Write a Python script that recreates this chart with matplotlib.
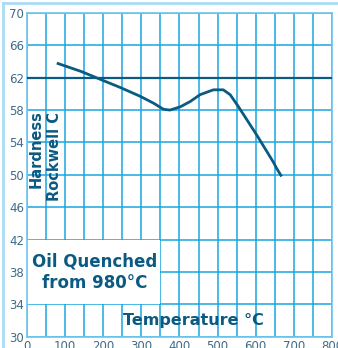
import numpy as np
import matplotlib.pyplot as plt
from matplotlib.patches import Rectangle

temp = [78, 143, 192, 244, 297, 332, 358, 375, 402, 428, 454, 489, 515, 533, 555, 603, 646, 655, 668]
hardness = [63.8, 62.75, 61.8, 60.8, 59.7, 58.85, 58.1, 58.0, 58.4, 59.05, 59.9, 60.5, 60.5,
            59.9, 58.4, 54.9, 51.6, 50.8, 49.8]
x_ticks = list(range(0, 801, 100))
y_ticks = list(range(30, 71, 4))
ref_level = 62

dark = "#0b5a82"
grid = "#1aa6e0"
pale = "#a9dcf5"

fig = plt.figure(figsize=(3.38, 3.48), dpi=100)
ax = fig.add_axes([0.080, 0.032, 0.902, 0.931])

ax.set_xlim(0, 800)
ax.set_ylim(30, 70)
ax.set_xticks(x_ticks)
ax.set_xticks(np.arange(0, 801, 50), minor=True)
ax.set_yticks(y_ticks)
ax.grid(True, which="both", color=grid, lw=1.1, zorder=0)
ax.tick_params(which="both", length=0, labelsize=8.5, labelcolor="#3f6b88", pad=2)
for s in ax.spines.values():
    s.set_color("#6cc6ee")
    s.set_linewidth(1.2)

ax.axhline(ref_level, color=dark, lw=1.6, zorder=3)
ax.plot(temp, hardness, color=dark, lw=2.0, zorder=4, solid_capstyle="butt",
        solid_joinstyle="round")

# white box behind the note
ax.add_patch(Rectangle((0, 34), 350, 8, facecolor="white", edgecolor="none", zorder=2))
ax.text(178, 38.0, "Oil Quenched\nfrom 980°C", ha="center", va="center",
        fontsize=12, fontweight="bold", color=dark, linespacing=1.25, zorder=5)

ax.text(436, 32.0, "Temperature °C", ha="center", va="center",
        fontsize=11.5, fontweight="bold", color=dark, zorder=5)
ax.text(25, 53.2, "Hardness", rotation=90, ha="center", va="center",
        fontsize=10.5, fontweight="bold", color=dark, zorder=5)
ax.text(73, 52.3, "Rockwell C", rotation=90, ha="center", va="center",
        fontsize=10.5, fontweight="bold", color=dark, zorder=5)

# pale frame on left and top of the figure
fig.add_artist(plt.Line2D([0.009, 0.009], [0, 0.991], transform=fig.transFigure, color=pale, lw=2))
fig.add_artist(plt.Line2D([0.009, 1], [0.991, 0.991], transform=fig.transFigure, color=pale, lw=2))

fig.savefig("out.png", dpi=100)
